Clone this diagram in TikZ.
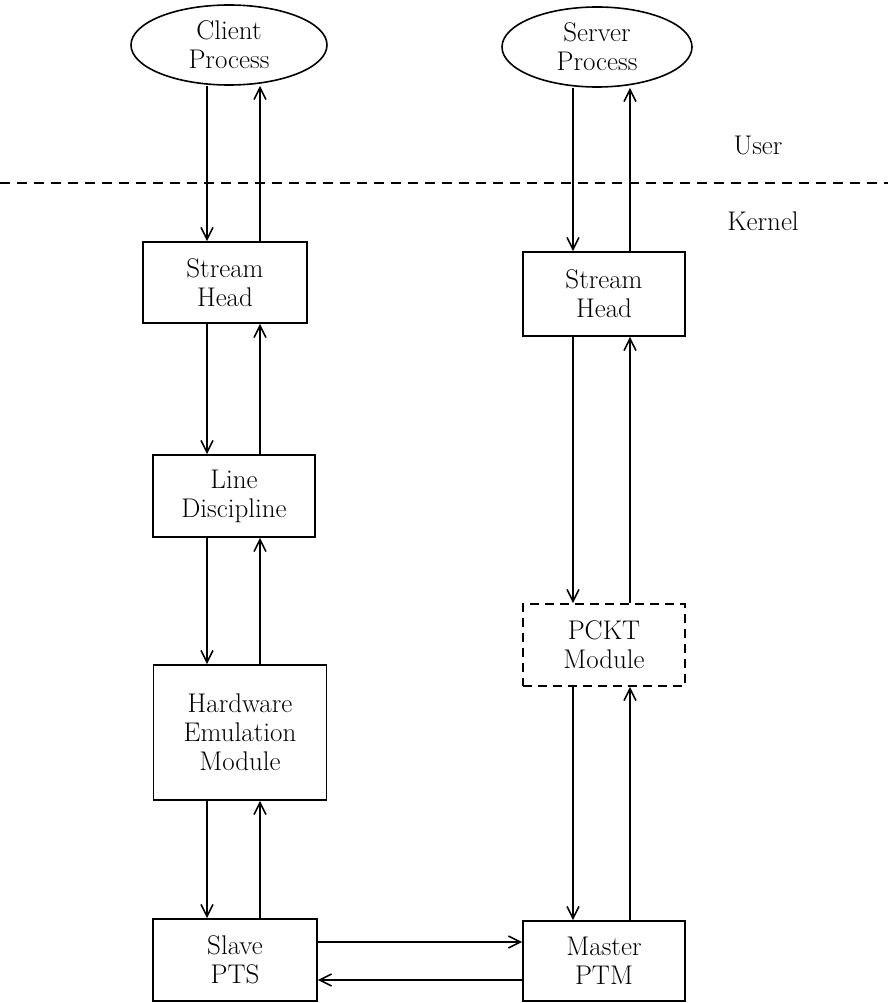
\documentclass[tikz,border=0pt]{standalone}
\usetikzlibrary{arrows.meta,shapes.geometric}

\begin{document}
\begin{tikzpicture}[
  x=1pt,y=-1pt,
  >={Straight Barb[length=12pt,width=12pt]},
  lbl/.style={font=\fontsize{27}{29}\selectfont,align=center,inner sep=0pt},
  proc/.style={lbl,ellipse,draw,line width=1.6pt},
  module/.style={lbl,rectangle,draw,line width=1.6pt},
  optmodule/.style={module,dash pattern=on 9pt off 6pt},
  flow/.style={line width=1.6pt,->},
  layerline/.style={line width=1.4pt,dash pattern=on 10pt off 7pt}
]
\useasboundingbox (0,0) rectangle (888,1003);

% lanes of the up and down streams
\coordinate (ldown) at (207,0);
\coordinate (lup)   at (260,0);
\coordinate (rdown) at (573,0);
\coordinate (rup)   at (630,0);
\coordinate (hi)    at (0,942);
\coordinate (lo)    at (0,980);

% user processes
\node[proc,minimum width=196pt,minimum height=80pt] (client) at (229,45) {Client\\Process};
\node[proc,minimum width=190pt,minimum height=80pt] (server) at (597,47) {Server\\Process};

% user / kernel boundary
\draw[layerline] (0,183) -- (888,183);
\node[lbl] (user)   at (758,145) {User};
\node[lbl] (kernel) at (763,221) {Kernel};

% slave side
\node[module,minimum width=164pt,minimum height=81pt]  (lhead)  at (225,282.5) {Stream\\Head};
\node[module,minimum width=162pt,minimum height=82pt]  (ldisc)  at (234,496)   {Line\\Discipline};
\node[module,minimum width=173pt,minimum height=135pt] (hwemu)  at (240,732.5) {Hardware\\Emulation\\Module};
\node[module,minimum width=164pt,minimum height=82pt]  (slave)  at (235,960)   {Slave\\PTS};

% master side
\node[module,minimum width=162pt,minimum height=84pt]    (rhead)  at (604,294) {Stream\\Head};
\node[optmodule,minimum width=162pt,minimum height=82pt] (pckt)   at (604,645) {PCKT\\Module};
\node[module,minimum width=162pt,minimum height=80pt]    (master) at (604,961) {Master\\PTM};

% down streams
\draw[flow] (ldown |- client.south) -- (ldown |- lhead.north);
\draw[flow] (ldown |- lhead.south)  -- (ldown |- ldisc.north);
\draw[flow] (ldown |- ldisc.south)  -- (ldown |- hwemu.north);
\draw[flow] (ldown |- hwemu.south)  -- (ldown |- slave.north);
\draw[flow] (rdown |- server.south) -- (rdown |- rhead.north);
\draw[flow] (rdown |- rhead.south)  -- (rdown |- pckt.north);
\draw[flow] (rdown |- pckt.south)   -- (rdown |- master.north);

% up streams
\draw[flow] (lup |- lhead.north) -- (lup |- client.south);
\draw[flow] (lup |- ldisc.north) -- (lup |- lhead.south);
\draw[flow] (lup |- hwemu.north) -- (lup |- ldisc.south);
\draw[flow] (lup |- slave.north) -- (lup |- hwemu.south);
\draw[flow] (rup |- rhead.north)  -- (rup |- server.south);
\draw[flow] (rup |- pckt.north)   -- (rup |- rhead.south);
\draw[flow] (rup |- master.north) -- (rup |- pckt.south);

% pseudo terminal pair
\draw[flow] (slave.east |- hi) -- (master.west |- hi);
\draw[flow] (master.west |- lo) -- (slave.east |- lo);
\end{tikzpicture}
\end{document}
